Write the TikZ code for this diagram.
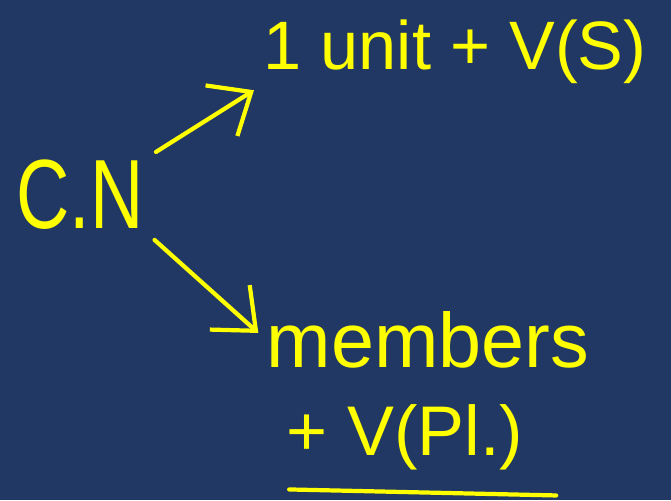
\documentclass[tikz,border=0pt]{standalone}
\usepackage{fontspec}
\setmainfont{Liberation Sans}
\usetikzlibrary{arrows.meta}
\definecolor{board}{HTML}{213864}
\definecolor{chalk}{HTML}{FFFF00}

\begin{document}
\begin{tikzpicture}[
    x=1cm, y=-1cm,
    word/.style={text=chalk, inner sep=0pt},
    line/.style={chalk, line width=1.2pt, line cap=round},
    arrow/.style={line, -{Straight Barb[length=10pt, width=17pt, line width=1.2pt]}},
  ]

  % --- board ---------------------------------------------------------------
  \fill[board] (0,0) rectangle (6.71,5.00);
  \useasboundingbox (0,0) rectangle (6.71,5.00);

  % --- the noun and its two readings ---------------------------------------
  \node[word, xscale=0.75, transform shape, font=\fontsize{28}{30}\selectfont] (cn) at (0.80,1.95) {C.N};
  \node[word, font=\fontsize{19.5}{22}\selectfont] (singular) at (4.55,0.52) {1 unit + V(S)};
  \node[word, font=\fontsize{22}{24}\selectfont] (members) at (4.28,3.40) {members};
  \node[word, font=\fontsize{20}{22}\selectfont] (plural) at (4.05,4.37) {+ V(Pl.)};

  % --- arrows ----------------------------------------------------------------
  \draw[arrow, shorten <=4pt, shorten >=3pt] (cn.north east) -- (singular.south west);
  \draw[arrow, shorten <=4pt, shorten >=3pt] (cn.south east) -- (members.west);

  % --- underline under the plural verb --------------------------------------
  \draw[line] ([shift={(0.03,0.19)}]plural.south west) -- ++(2.67,0.06);

\end{tikzpicture}
\end{document}
